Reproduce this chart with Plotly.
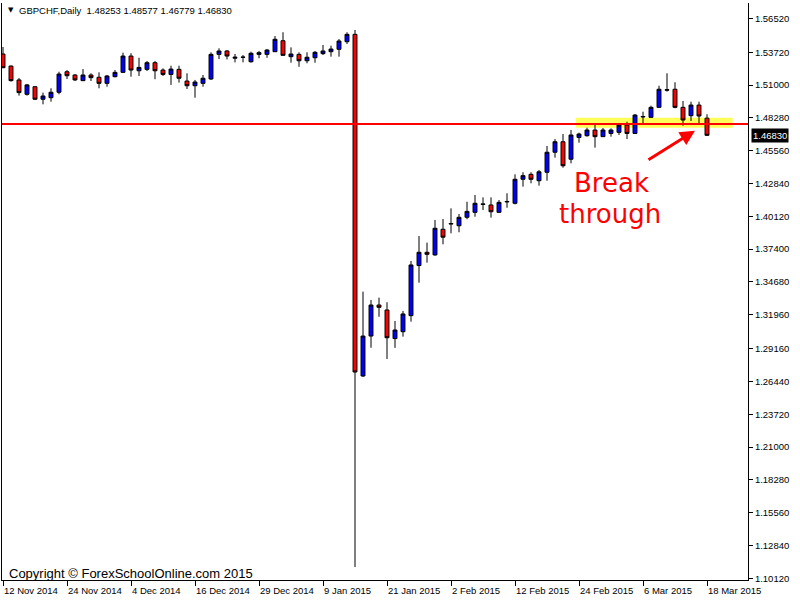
import plotly.graph_objects as go

# ---------------- data ----------------
dates = [
    "2014-11-12", "2014-11-13", "2014-11-14", "2014-11-17", "2014-11-18", "2014-11-19", "2014-11-20",
    "2014-11-21", "2014-11-24", "2014-11-25", "2014-11-26", "2014-11-27", "2014-11-28",
    "2014-12-01", "2014-12-02", "2014-12-03", "2014-12-04", "2014-12-05", "2014-12-08", "2014-12-09",
    "2014-12-10", "2014-12-11", "2014-12-12", "2014-12-15", "2014-12-16", "2014-12-17", "2014-12-18",
    "2014-12-19", "2014-12-22", "2014-12-23", "2014-12-24", "2014-12-26", "2014-12-29", "2014-12-30",
    "2014-12-31",
    "2015-01-02", "2015-01-05", "2015-01-06", "2015-01-07", "2015-01-08", "2015-01-09", "2015-01-12",
    "2015-01-13", "2015-01-14", "2015-01-15", "2015-01-16", "2015-01-19", "2015-01-20", "2015-01-21",
    "2015-01-22", "2015-01-23", "2015-01-26", "2015-01-27", "2015-01-28", "2015-01-29", "2015-01-30",
    "2015-02-02", "2015-02-03", "2015-02-04", "2015-02-05", "2015-02-06", "2015-02-09", "2015-02-10",
    "2015-02-11", "2015-02-12", "2015-02-13", "2015-02-16", "2015-02-17", "2015-02-18", "2015-02-19",
    "2015-02-20", "2015-02-23", "2015-02-24", "2015-02-25", "2015-02-26", "2015-02-27",
    "2015-03-02", "2015-03-03", "2015-03-04", "2015-03-05", "2015-03-06", "2015-03-09", "2015-03-10",
    "2015-03-11", "2015-03-12", "2015-03-13", "2015-03-16", "2015-03-17", "2015-03-18",
]

opens = [
    1.5357, 1.5257, 1.5142, 1.5023, 1.5086, 1.4982, 1.4995, 1.5040, 1.5210, 1.5183,
    1.5136, 1.5183, 1.5164, 1.5114, 1.5169, 1.5205, 1.5340, 1.5218, 1.5230, 1.5285,
    1.5224, 1.5188, 1.5230, 1.5133, 1.5094, 1.5114, 1.5150, 1.5354, 1.5382, 1.5322,
    1.5329, 1.5293, 1.5354, 1.5354, 1.5376, 1.5467, 1.5335, 1.5354, 1.5301, 1.5326,
    1.5360, 1.5376, 1.5396, 1.5459, 1.5520, 1.2689, 1.3020, 1.3277, 1.3236, 1.2999,
    1.3056, 1.3189, 1.3604, 1.3714, 1.3692, 1.3905, 1.3948, 1.3934, 1.4004, 1.4045,
    1.4115, 1.4106, 1.4045, 1.4131, 1.4120, 1.4319, 1.4360, 1.4307, 1.4377, 1.4543,
    1.4630, 1.4485, 1.4666, 1.4680, 1.4727, 1.4672, 1.4699, 1.4708, 1.4769, 1.4699,
    1.4835, 1.4832, 1.4915, 1.5057, 1.5065, 1.4915, 1.4846, 1.4934, 1.48253,
]
highs = [
    1.5415, 1.5262, 1.5158, 1.5109, 1.5092, 1.5037, 1.5073, 1.5210, 1.5224, 1.5191,
    1.5232, 1.5197, 1.5205, 1.5183, 1.5224, 1.5368, 1.5363, 1.5326, 1.5299, 1.5299,
    1.5238, 1.5260, 1.5260, 1.5197, 1.5142, 1.5183, 1.5371, 1.5404, 1.5390, 1.5357,
    1.5349, 1.5376, 1.5382, 1.5398, 1.5506, 1.5537, 1.5412, 1.5371, 1.5371, 1.5382,
    1.5432, 1.5426, 1.5481, 1.5537, 1.5556, 1.3388, 1.3319, 1.3338, 1.3300, 1.3145,
    1.3228, 1.3642, 1.3849, 1.3794, 1.3982, 1.3990, 1.4078, 1.4031, 1.4133, 1.4189,
    1.4169, 1.4169, 1.4147, 1.4203, 1.4360, 1.4377, 1.4377, 1.4396, 1.4595, 1.4652,
    1.4694, 1.4727, 1.4705, 1.4746, 1.4772, 1.4744, 1.4741, 1.4783, 1.4796, 1.4860,
    1.4879, 1.4929, 1.5094, 1.5197, 1.5123, 1.4968, 1.4962, 1.4962, 1.48577,
]
lows = [
    1.5241, 1.5129, 1.5012, 1.5012, 1.4976, 1.4940, 1.4962, 1.5023, 1.5150, 1.5133,
    1.5133, 1.5133, 1.5073, 1.5086, 1.5164, 1.5200, 1.5169, 1.5175, 1.5216, 1.5148,
    1.5175, 1.5101, 1.5120, 1.5067, 1.4995, 1.5086, 1.5142, 1.5315, 1.5312, 1.5288,
    1.5288, 1.5285, 1.5322, 1.5326, 1.5374, 1.5344, 1.5285, 1.5251, 1.5280, 1.5285,
    1.5349, 1.5335, 1.5335, 1.5440, 1.1106, 1.2681, 1.2923, 1.3180, 1.2830, 1.2922,
    1.3015, 1.3139, 1.3462, 1.3628, 1.3686, 1.3780, 1.3871, 1.3880, 1.3988, 1.4009,
    1.4064, 1.4001, 1.4042, 1.4083, 1.4111, 1.4258, 1.4286, 1.4266, 1.4307, 1.4498,
    1.4415, 1.4451, 1.4622, 1.4672, 1.4581, 1.4672, 1.4672, 1.4686, 1.4652, 1.4697,
    1.4782, 1.4830, 1.4913, 1.5045, 1.4907, 1.4763, 1.4802, 1.4772, 1.46779,
]
closes = [
    1.5243, 1.5136, 1.5037, 1.5101, 1.4982, 1.5009, 1.5040, 1.5191, 1.5177, 1.5142,
    1.5183, 1.5161, 1.5114, 1.5175, 1.5205, 1.5340, 1.5224, 1.5246, 1.5285, 1.5218,
    1.5188, 1.5232, 1.5156, 1.5094, 1.5125, 1.5156, 1.5354, 1.5382, 1.5340, 1.5330,
    1.5331, 1.5363, 1.5368, 1.5390, 1.5479, 1.5346, 1.5357, 1.5301, 1.5330, 1.5371,
    1.5382, 1.5398, 1.5465, 1.5520, 1.2722, 1.3020, 1.3277, 1.3258, 1.3006, 1.3070,
    1.3203, 1.3609, 1.3714, 1.3697, 1.3913, 1.3839, 1.3952, 1.4004, 1.4053, 1.4120,
    1.4111, 1.4050, 1.4128, 1.4135, 1.4319, 1.4349, 1.4319, 1.4381, 1.4543, 1.4630,
    1.4431, 1.4686, 1.4694, 1.4727, 1.4672, 1.4727, 1.4727, 1.4769, 1.4699, 1.4851,
    1.4839, 1.4915, 1.5065, 1.5061, 1.4915, 1.4810, 1.4934, 1.4843, 1.46830,
]

x_tick_dates = ["2014-11-12", "2014-11-24", "2014-12-04", "2014-12-16", "2014-12-29", "2015-01-09",
                "2015-01-21", "2015-02-02", "2015-02-12", "2015-02-24", "2015-03-06", "2015-03-18"]
x_tick_labels = ["12 Nov 2014", "24 Nov 2014", "4 Dec 2014", "16 Dec 2014", "29 Dec 2014", "9 Jan 2015",
                 "21 Jan 2015", "2 Feb 2015", "12 Feb 2015", "24 Feb 2015", "6 Mar 2015", "18 Mar 2015"]

y_tick_labels = ["1.56520", "1.53720", "1.51000", "1.48280", "1.45560", "1.42840", "1.40120", "1.37400",
                 "1.34680", "1.31960", "1.29160", "1.26440", "1.23720", "1.21000", "1.18280", "1.15560",
                 "1.12840", "1.10120"]
y_tick_vals = [float(t) for t in y_tick_labels]

last_price = 1.46830
level_price = 1.4777
zone_low, zone_high = 1.4746, 1.4829
title_text = "GBPCHF,Daily  1.48253 1.48577 1.46779 1.46830"

# ---------------- figure ----------------
FONT = "Liberation Sans"

fig = go.Figure(go.Candlestick(
    x=dates, open=opens, high=highs, low=lows, close=closes,
    increasing=dict(fillcolor="#0000FF", line=dict(color="#000000", width=1)),
    decreasing=dict(fillcolor="#FF0000", line=dict(color="#000000", width=1)),
    whiskerwidth=0, hoverinfo="skip", showlegend=False,
))

annotations = []
for d, t in zip(x_tick_dates, x_tick_labels):
    annotations.append(dict(x=d, xref="x", y=0, yref="paper", yanchor="middle", yshift=-10,
                            xanchor="left", xshift=-1, text=t, showarrow=False,
                            font=dict(family=FONT, size=9.5, color="#000000")))

annotations += [
    dict(x=0, xref="paper", xshift=4, y=1, yref="paper", yshift=-7, xanchor="left", yanchor="middle",
         text="▼", showarrow=False, font=dict(family="DejaVu Sans", size=7, color="#000000")),
    dict(x=0, xref="paper", xshift=15, y=1, yref="paper", yshift=-7, xanchor="left", yanchor="middle",
         text=title_text, showarrow=False, font=dict(family=FONT, size=9.5, color="#000000")),
    dict(x=0, xref="paper", xshift=5, y=0, yref="paper", yshift=7, xanchor="left", yanchor="middle",
         text="Copyright © ForexSchoolOnline.com 2015", showarrow=False,
         font=dict(family=FONT, size=13, color="#000000")),
    dict(x=1, xref="paper", xshift=3, y=last_price, yref="y", xanchor="left", yanchor="middle",
         text="1.46830", showarrow=False, bgcolor="#000000", borderpad=1,
         font=dict(family=FONT, size=9.5, color="#FFFFFF")),
    dict(x=86.5, xref="x", y=1.4722, yref="y", ax=-48, ay=30, axref="pixel", ayref="pixel",
         text="", showarrow=True, arrowhead=2, arrowsize=1, arrowwidth=3, arrowcolor="#FF0000"),
    dict(x=76.1, xref="x", y=1.4288, yref="y", text="Break", showarrow=False,
         xanchor="center", yanchor="middle", font=dict(family="DejaVu Sans", size=26, color="#FF0000")),
    dict(x=75.9, xref="x", y=1.4031, yref="y", text="through", showarrow=False,
         xanchor="center", yanchor="middle", font=dict(family="DejaVu Sans", size=26, color="#FF0000")),
]

shapes = [
    dict(type="rect", xref="x", yref="y", x0=71.6, x1=91.2, y0=zone_low, y1=zone_high,
         fillcolor="rgba(255,255,0,0.65)", line=dict(width=0), layer="below"),
    dict(type="line", xref="paper", yref="y", x0=0, x1=1, y0=level_price, y1=level_price,
         line=dict(color="#FF0000", width=2), layer="above"),
]

fig.update_layout(
    width=800, height=600,
    margin=dict(l=2, r=52, t=3, b=20),
    paper_bgcolor="#FFFFFF", plot_bgcolor="#FFFFFF",
    showlegend=False,
    annotations=annotations, shapes=shapes,
    xaxis=dict(type="category", range=[-0.125, 93.125], showgrid=False, zeroline=False,
               showline=True, linecolor="#000000", linewidth=1,
               ticks="outside", ticklen=5, tickcolor="#000000", tickwidth=1,
               tickvals=x_tick_dates, showticklabels=False,
               rangeslider=dict(visible=False), fixedrange=True),
    yaxis=dict(side="right", range=[1.09986, 1.57796], showgrid=False, zeroline=False,
               showline=True, mirror=True, linecolor="#000000", linewidth=1,
               ticks="outside", ticklen=4, tickcolor="#000000", tickwidth=1,
               tickvals=y_tick_vals, ticktext=y_tick_labels,
               tickfont=dict(family=FONT, size=9.5, color="#000000"), fixedrange=True),
)

fig.write_html(
    "out.html",
    config={"displayModeBar": False},
    post_script="document.body.style.margin='0';document.body.style.overflow='hidden';",
)
